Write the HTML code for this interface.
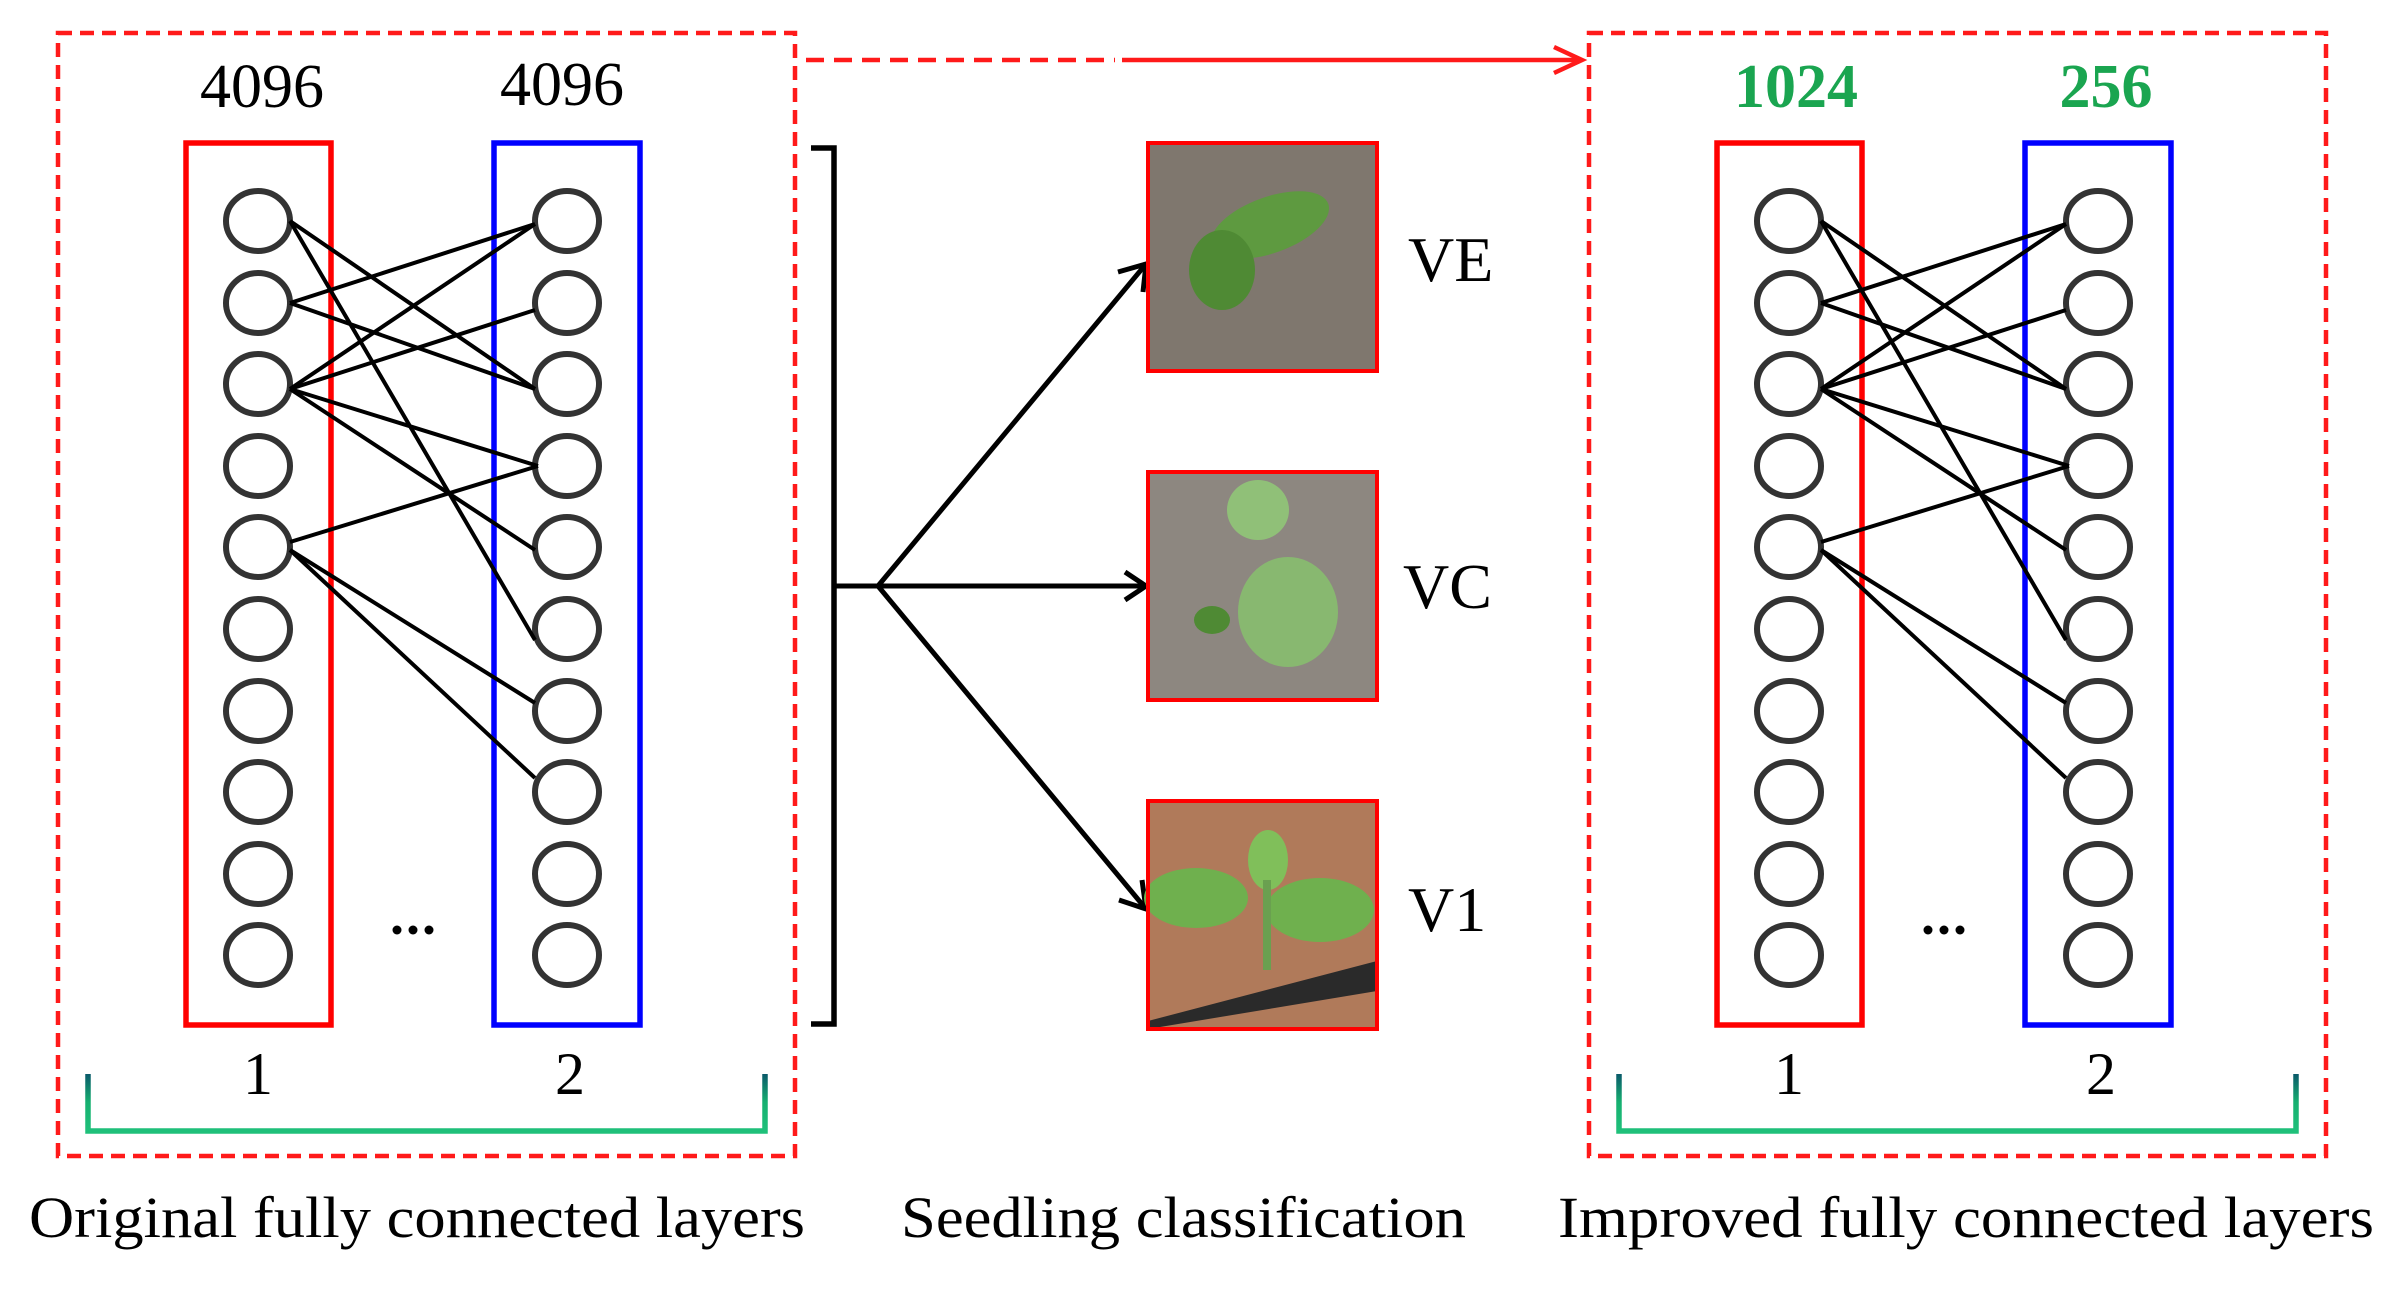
<!DOCTYPE html>
<html><head><meta charset="utf-8"><style>html,body{margin:0;padding:0;background:#fff}svg{display:block}</style></head>
<body>
<svg width="2394" height="1290" viewBox="0 0 2394 1290" xmlns="http://www.w3.org/2000/svg" font-family="'Liberation Serif', serif">
<defs>
<linearGradient id="br" x1="0" y1="0" x2="0" y2="1"><stop offset="0" stop-color="#0a5a6a"/><stop offset="0.5" stop-color="#16b070"/><stop offset="1" stop-color="#1fc07a"/></linearGradient>
<g id="panel">
  <rect x="58" y="33" width="737" height="1123" fill="none" stroke="#ff1a1a" stroke-width="4.5" stroke-dasharray="14,8"/>
  <rect x="186" y="143" width="145" height="882" fill="none" stroke="#ff0000" stroke-width="5.5"/>
  <rect x="494" y="143" width="146" height="882" fill="none" stroke="#0000ff" stroke-width="5.5"/>
  <g fill="none" stroke="#333" stroke-width="6">
    <ellipse cx="258" cy="221" rx="32" ry="30"/><ellipse cx="258" cy="303" rx="32" ry="30"/><ellipse cx="258" cy="384" rx="32" ry="30"/><ellipse cx="258" cy="466" rx="32" ry="30"/><ellipse cx="258" cy="547" rx="32" ry="30"/><ellipse cx="258" cy="629" rx="32" ry="30"/><ellipse cx="258" cy="711" rx="32" ry="30"/><ellipse cx="258" cy="792" rx="32" ry="30"/><ellipse cx="258" cy="874" rx="32" ry="30"/><ellipse cx="258" cy="955" rx="32" ry="30"/>
    <ellipse cx="567" cy="221" rx="32" ry="30"/><ellipse cx="567" cy="303" rx="32" ry="30"/><ellipse cx="567" cy="384" rx="32" ry="30"/><ellipse cx="567" cy="466" rx="32" ry="30"/><ellipse cx="567" cy="547" rx="32" ry="30"/><ellipse cx="567" cy="629" rx="32" ry="30"/><ellipse cx="567" cy="711" rx="32" ry="30"/><ellipse cx="567" cy="792" rx="32" ry="30"/><ellipse cx="567" cy="874" rx="32" ry="30"/><ellipse cx="567" cy="955" rx="32" ry="30"/>
  </g>
  <g stroke="#000" stroke-width="4">
    <line x1="290" y1="221" x2="535" y2="389"/><line x1="290" y1="221" x2="535" y2="640"/>
    <line x1="290" y1="303" x2="535" y2="224"/><line x1="290" y1="303" x2="535" y2="389"/>
    <line x1="290" y1="389" x2="535" y2="224"/><line x1="290" y1="389" x2="535" y2="310"/><line x1="290" y1="389" x2="538" y2="466"/><line x1="290" y1="389" x2="535" y2="550"/>
    <line x1="290" y1="542" x2="538" y2="466"/><line x1="290" y1="550" x2="535" y2="703"/><line x1="290" y1="550" x2="535" y2="778"/>
  </g>
  <g fill="#000"><circle cx="397" cy="930" r="4.5"/><circle cx="413" cy="930" r="4.5"/><circle cx="429" cy="930" r="4.5"/></g>
  <text x="258" y="1094" font-size="60" text-anchor="middle">1</text>
  <text x="570" y="1094" font-size="60" text-anchor="middle">2</text>
  <path d="M88 1074 L88 1131 L765 1131 L765 1074" fill="none" stroke="url(#br)" stroke-width="5.5"/>
</g>
</defs>
<use href="#panel"/>
<use href="#panel" transform="translate(1531,0)"/>
<text x="262" y="107" font-size="62" text-anchor="middle">4096</text>
<text x="562" y="105" font-size="62" text-anchor="middle">4096</text>
<text x="1796" y="107" font-size="62" font-weight="bold" fill="#1aa550" text-anchor="middle">1024</text>
<text x="2106" y="107" font-size="62" font-weight="bold" fill="#1aa550" text-anchor="middle">256</text>
<text x="29" y="1237" font-size="58" textLength="776" lengthAdjust="spacingAndGlyphs">Original fully connected layers</text>
<text x="901" y="1237" font-size="58" textLength="565" lengthAdjust="spacingAndGlyphs">Seedling classification</text>
<text x="1558" y="1237" font-size="58" textLength="816" lengthAdjust="spacingAndGlyphs">Improved fully connected layers</text>
<!-- top arrow -->
<line x1="806" y1="60" x2="1115" y2="60" stroke="#ff1a1a" stroke-width="4.5" stroke-dasharray="18,10"/>
<line x1="1122" y1="60" x2="1580" y2="60" stroke="#ff1a1a" stroke-width="4.5"/>
<path d="M1554 47 L1582 60 L1554 73" fill="none" stroke="#ff1a1a" stroke-width="4.5"/>
<!-- bracket -->
<path d="M811 148 L834 148 L834 1024 L811 1024" fill="none" stroke="#000" stroke-width="5.5"/>
<g stroke="#000" stroke-width="5" fill="none">
<line x1="834" y1="586" x2="878" y2="586"/>
<line x1="878" y1="586" x2="1146" y2="264"/><line x1="878" y1="586" x2="1146" y2="586"/><line x1="878" y1="586" x2="1146" y2="909"/>
<path d="M1118 272 L1146 264 L1143 292"/><path d="M1125 572 L1146 586 L1125 600"/><path d="M1142 880 L1146 909 L1119 900"/>
</g>
<!-- images -->
<rect x="1148" y="143" width="229" height="228" fill="#8a8279"/>
<rect x="1148" y="143" width="229" height="228" fill="#6e665e" opacity="0.4"/>
<ellipse cx="1270" cy="225" rx="62" ry="28" fill="#5e9a40" transform="rotate(-20 1270 225)"/>
<ellipse cx="1222" cy="270" rx="33" ry="40" fill="#4f8a34"/>
<rect x="1148" y="143" width="229" height="228" fill="none" stroke="#ff0000" stroke-width="4"/>
<rect x="1148" y="472" width="229" height="228" fill="#8d8780"/>
<ellipse cx="1288" cy="612" rx="50" ry="55" fill="#88b870"/>
<ellipse cx="1258" cy="510" rx="31" ry="30" fill="#90c078"/>
<ellipse cx="1212" cy="620" rx="18" ry="14" fill="#4f8a34"/>
<rect x="1148" y="472" width="229" height="228" fill="none" stroke="#ff0000" stroke-width="4"/>
<rect x="1148" y="801" width="229" height="228" fill="#b07a5a"/>
<path d="M1148 1021 L1377 961 L1377 991 L1148 1029 Z" fill="#2a2a2a"/>
<ellipse cx="1196" cy="898" rx="52" ry="30" fill="#6fb04e"/>
<ellipse cx="1320" cy="910" rx="54" ry="32" fill="#6fb04e"/>
<ellipse cx="1268" cy="860" rx="20" ry="30" fill="#80bf5a"/>
<rect x="1263" y="880" width="8" height="90" fill="#6aa050"/>
<rect x="1148" y="801" width="229" height="228" fill="none" stroke="#ff0000" stroke-width="4"/>
<text x="1408" y="281" font-size="64">VE</text>
<text x="1403" y="608" font-size="64">VC</text>
<text x="1408" y="931" font-size="64">V1</text>
</svg>
</body></html>
